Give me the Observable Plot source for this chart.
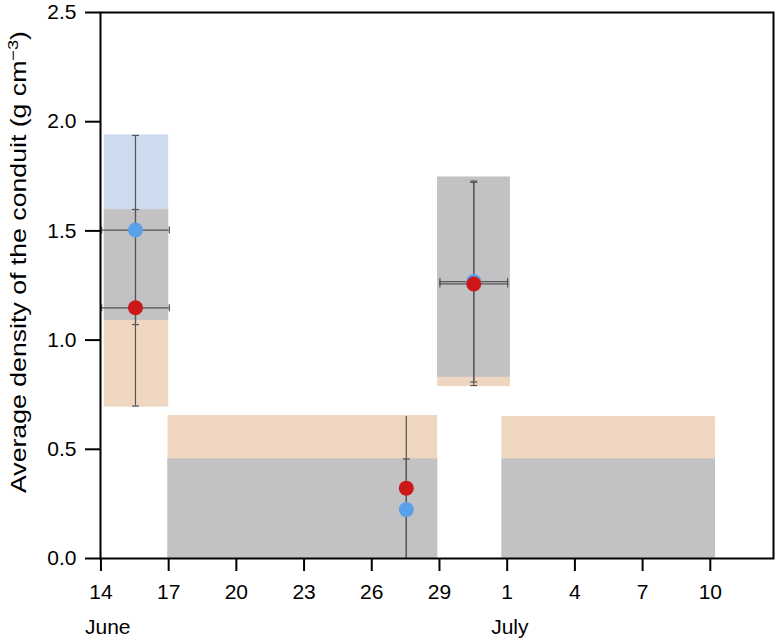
<!DOCTYPE html>
<html><head><meta charset="utf-8">
<script src="https://cdn.jsdelivr.net/npm/d3@7"></script>
<script src="https://cdn.jsdelivr.net/npm/@observablehq/plot@0.6"></script>
<style>body{margin:0;background:#fff} svg{display:block}</style>
</head><body><div id="chart"></div>
<script>
// x in day units: June d -> d, July d -> 31 + d (the figure spaces 29 -> 1 like the other 3-day steps)
const tickValues = [14, 17, 20, 23, 26, 29, 32, 35, 38, 41];
const tickLabels = ["14", "17", "20", "23", "26", "29", "1", "4", "7", "10"];
const monthNames = ["June", "July"];
const monthStart = [14, 32];
const yTicks = [0, 0.5, 1.0, 1.5, 2.0, 2.5];

// observation periods
const periodStart = [14.15, 16.97, 28.92, 31.77];
const periodEnd   = [17.0, 28.92, 32.14, 41.23];
// blue (range for blue estimate) and orange (range for red estimate)
const blueLow    = [1.09, 0, 0.83, 0];
const blueHigh   = [1.94, 0.456, 1.746, 0.456];
const orangeLow  = [0.693, 0, 0.787, 0];
const orangeHigh = [1.597, 0.655, 1.746, 0.650];

// point estimates
const pointX   = [15.53, 27.53, 30.52];
const xErr     = [1.5, 0, 1.5];
const blueY    = [1.504, 0.224, 1.268];
const blueErr  = [0.433, 0.232, 0.46];
const redY     = [1.148, 0.322, 1.257];
const redErr   = [0.45, 0.328, 0.465];
const blueTopCap = [true, true, true];
const redTopCap  = [true, false, true];

const blueRects = periodStart.map((s, i) => ({x1: s, x2: periodEnd[i], y1: blueLow[i], y2: blueHigh[i]}));
const orangeRects = periodStart.map((s, i) => ({x1: s, x2: periodEnd[i], y1: orangeLow[i], y2: orangeHigh[i]}));
const overlapRects = periodStart.map((s, i) => ({x1: s, x2: periodEnd[i],
  y1: Math.max(blueLow[i], orangeLow[i]), y2: Math.min(blueHigh[i], orangeHigh[i])}));

function pts(ys, errs, topCaps) {
  return pointX.map((x, i) => ({x, y: ys[i], lo: Math.max(0, ys[i] - errs[i]), hi: ys[i] + errs[i],
    xlo: x - xErr[i], xhi: x + xErr[i], hasX: xErr[i] > 0, topCap: topCaps[i], lowCap: ys[i] - errs[i] > 0}));
}
const bluePts = pts(blueY, blueErr, blueTopCap);
const redPts = pts(redY, redErr, redTopCap);
const allPts = [...bluePts, ...redPts];
const capsY = allPts.flatMap(p => [...(p.lowCap ? [{x: p.x, y: p.lo}] : []), ...(p.topCap ? [{x: p.x, y: p.hi}] : [])]);
const hPts = allPts.filter(p => p.hasX);
const capsX = hPts.flatMap(p => [{x: p.xlo, y: p.y}, {x: p.xhi, y: p.y}]);

const hline = {draw(ctx, size) { const r = Math.sqrt(size / Math.PI); ctx.moveTo(-r, 0); ctx.lineTo(r, 0); }};
const vline = {draw(ctx, size) { const r = Math.sqrt(size / Math.PI); ctx.moveTo(0, -r); ctx.lineTo(0, r); }};
const errColor = "#555";

const chart = Plot.plot({
  width: 780, height: 639,
  marginLeft: 100, marginRight: 7, marginTop: 12, marginBottom: 81,
  style: {fontFamily: "'Liberation Sans', Arial, sans-serif", color: "black", background: "white"},
  x: {domain: [13.98, 43.8]},
  y: {domain: [0, 2.5]},
  marks: [
    Plot.rect(blueRects, {x1: "x1", x2: "x2", y1: "y1", y2: "y2", fill: "#cddbef"}),
    Plot.rect(orangeRects, {x1: "x1", x2: "x2", y1: "y1", y2: "y2", fill: "#efd6c0"}),
    Plot.rect(overlapRects, {x1: "x1", x2: "x2", y1: "y1", y2: "y2", fill: "#c2c1c3"}),
    Plot.ruleX(allPts, {x: "x", y1: "lo", y2: "hi", stroke: errColor, strokeWidth: 1.2}),
    Plot.ruleY(hPts, {y: "y", x1: "xlo", x2: "xhi", stroke: errColor, strokeWidth: 1.2}),
    Plot.dot(capsY, {x: "x", y: "y", symbol: hline, r: 3.5, stroke: errColor, strokeWidth: 1.2, fill: "none"}),
    Plot.dot(capsX, {x: "x", y: "y", symbol: vline, r: 3.5, stroke: errColor, strokeWidth: 1.2, fill: "none"}),
    Plot.dot(bluePts, {x: "x", y: "y", r: 7.5, fill: "#5aa0e8", stroke: "none"}),
    Plot.dot(redPts, {x: "x", y: "y", r: 7.5, fill: "#cc1818", stroke: "none"}),
    Plot.frame({stroke: "black", strokeWidth: 2}),
    Plot.axisY({ticks: yTicks, tickFormat: d3.format(".1f"), tickSize: 15, tickPadding: 9,
      fontSize: 21, strokeWidth: 2, label: null}),
    Plot.axisX({ticks: tickValues, tickFormat: d => tickLabels[tickValues.indexOf(d)], tickSize: 13,
      tickPadding: 13, fontSize: 21, strokeWidth: 2, label: null}),
    Plot.text(monthNames, {x: (d, i) => monthStart[i], text: d => d, frameAnchor: "bottom",
      textAnchor: "start", lineAnchor: "top", dx: -16, dy: 61, fontSize: 21, fill: "black"})
  ]
});
document.getElementById("chart").appendChild(chart);

// y-axis title with superscript
const svg = d3.select(chart);
const t = svg.append("text")
  .attr("transform", "translate(26,262) rotate(-90)")
  .attr("text-anchor", "middle")
  .attr("font-size", 22)
  .attr("textLength", 462)
  .attr("lengthAdjust", "spacingAndGlyphs")
  .attr("fill", "black");
t.append("tspan").text("Average density of the conduit (g cm");
t.append("tspan").attr("baseline-shift", "super").attr("font-size", 15).text("\u22123");
t.append("tspan").text(")");
</script>
</body></html>
